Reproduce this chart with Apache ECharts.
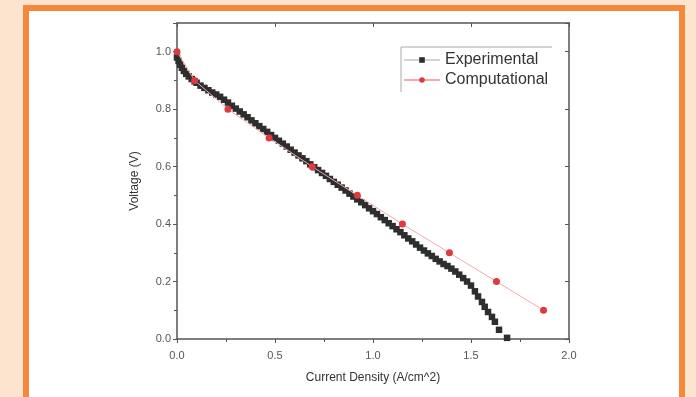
<!DOCTYPE html>
<html>
<head>
<meta charset="utf-8">
<script src="https://cdn.jsdelivr.net/npm/echarts@6/dist/echarts.min.js"></script>
<style>
  html, body { margin: 0; padding: 0; background: #fde4cf; }
  #frame {
    position: absolute; left: 23px; top: 5px; width: 650px; height: 392px;
    border: 6px solid #f5883a; border-bottom: none; background: #fff;
  }
  #chart { position: absolute; left: 0; top: 0; width: 696px; height: 397px; }
</style>
</head>
<body>
<div id="frame"></div>
<div id="chart"></div>
<script>
// Experimental polarisation curve (A/cm^2, V)
const currentExp = [
  0, 0.008, 0.016, 0.025, 0.035, 0.047, 0.06, 0.075, 0.09, 0.10,
  0.12, 0.14, 0.16, 0.18, 0.20, 0.22, 0.24, 0.26, 0.28, 0.30,
  0.32, 0.34, 0.36, 0.38, 0.40, 0.42, 0.44, 0.46, 0.48, 0.50,
  0.52, 0.54, 0.56, 0.58, 0.60, 0.62, 0.64, 0.66, 0.68, 0.70,
  0.72, 0.74, 0.76, 0.78, 0.80, 0.82, 0.84, 0.86, 0.88, 0.90,
  0.92, 0.94, 0.96, 0.98, 1.00, 1.02, 1.04, 1.06, 1.08, 1.10,
  1.12, 1.14, 1.16, 1.18, 1.20, 1.22, 1.24, 1.26, 1.28, 1.30,
  1.32, 1.34, 1.36, 1.38, 1.40, 1.42, 1.44, 1.46, 1.48, 1.50,
  1.52, 1.536, 1.556, 1.57, 1.587, 1.607, 1.622, 1.643, 1.684
]
const voltageExp = [
  0.98, 0.968, 0.955, 0.944, 0.933, 0.923, 0.914, 0.905, 0.897, 0.892,
  0.882, 0.874, 0.866, 0.858, 0.851, 0.843, 0.833, 0.823, 0.812, 0.802,
  0.792, 0.782, 0.772, 0.761, 0.751, 0.741, 0.731, 0.721, 0.710, 0.700,
  0.690, 0.680, 0.670, 0.659, 0.649, 0.639, 0.629, 0.619, 0.608, 0.598,
  0.588, 0.578, 0.568, 0.557, 0.547, 0.537, 0.527, 0.517, 0.506, 0.496,
  0.486, 0.476, 0.466, 0.455, 0.445, 0.435, 0.424, 0.414, 0.403, 0.393,
  0.382, 0.372, 0.361, 0.350, 0.340, 0.329, 0.318, 0.308, 0.298, 0.289,
  0.279, 0.270, 0.261, 0.254, 0.245, 0.235, 0.224, 0.212, 0.200, 0.186,
  0.166, 0.148, 0.129, 0.112, 0.094, 0.077, 0.060, 0.032, 0.004
]
// Computational model
const currentComp = [0, 0.09, 0.26, 0.47, 0.69, 0.92, 1.15, 1.39, 1.63, 1.87]
const voltageComp = [1.0, 0.9, 0.8, 0.7, 0.6, 0.5, 0.4, 0.3, 0.2, 0.1]

const seriesNames = ['Experimental', 'Computational']
const xName = 'Current Density (A/cm^2)'
const yName = 'Voltage (V)'

const FONT = '"Liberation Sans", Arial, sans-serif'
const AXIS_COLOR = '#555'

const chart = echarts.init(document.getElementById('chart'), null, { renderer: 'canvas' })

const baseAxis = {
  type: 'value',
  axisLine: { show: true, onZero: false, lineStyle: { color: AXIS_COLOR, width: 1.5 } },
  splitLine: { show: false },
  minorTick: { show: true, splitNumber: 2, length: 3, lineStyle: { color: AXIS_COLOR } },
  axisTick: { show: true, length: 4, lineStyle: { color: AXIS_COLOR } },
}

chart.setOption({
  backgroundColor: 'transparent',
  animation: false,
  grid: { left: 177, right: 127, top: 23, bottom: 58, outerBoundsMode: 'none' },
  legend: {
    orient: 'vertical',
    left: 403,
    top: 52,
    padding: 0,
    itemWidth: 36,
    itemHeight: 7,
    itemGap: 4,
    textStyle: { color: '#333', fontSize: 16, fontFamily: FONT },
    data: [
      { name: seriesNames[0], lineStyle: { color: '#aaa', width: 1, opacity: 1 } },
      { name: seriesNames[1] },
    ],
  },
  graphic: [{
    type: 'polyline',
    silent: true,
    shape: { points: [[401, 92], [401, 47], [552, 47]] },
    style: { stroke: '#aaa', lineWidth: 1, fill: null },
  }],
  xAxis: [
    {
      ...baseAxis,
      position: 'bottom',
      min: 0, max: 2, interval: 0.5,
      name: xName,
      nameLocation: 'middle',
      nameGap: 33,
      nameTextStyle: { color: '#333', fontSize: 12, fontFamily: FONT },
      axisLabel: {
        color: AXIS_COLOR, fontSize: 11, fontFamily: FONT, margin: 11,
        formatter: v => v.toFixed(1),
      },
    },
    {
      ...baseAxis,
      position: 'top',
      min: 0, max: 2, interval: 0.5,
      axisLabel: { show: false },
      axisTick: { ...baseAxis.axisTick, inside: true },
      minorTick: { ...baseAxis.minorTick, show: false },
    },
  ],
  yAxis: [
    {
      ...baseAxis,
      position: 'left',
      min: 0, max: 1.1, interval: 0.2,
      name: yName,
      nameLocation: 'middle',
      nameGap: 36,
      nameTextStyle: { color: '#333', fontSize: 12, fontFamily: FONT },
      axisLabel: {
        color: AXIS_COLOR, fontSize: 11, fontFamily: FONT, margin: 6,
        showMaxLabel: false,
        formatter: v => v.toFixed(1),
      },
    },
    {
      ...baseAxis,
      position: 'right',
      min: 0, max: 1.1, interval: 0.2,
      axisLabel: { show: false },
      axisTick: { ...baseAxis.axisTick, inside: true },
      minorTick: { ...baseAxis.minorTick, show: false },
    },
  ],
  series: [
    {
      name: seriesNames[0],
      type: 'line',
      symbol: 'rect',
      symbolSize: 6.5,
      showSymbol: true,
      lineStyle: { width: 0, opacity: 0 },
      itemStyle: { color: '#2e2e2e' },
      z: 2,
      data: currentExp.map((c, i) => [c, voltageExp[i]]),
    },
    {
      name: seriesNames[1],
      type: 'line',
      symbol: 'circle',
      symbolSize: 7,
      showSymbol: true,
      lineStyle: { width: 1, color: '#f2a9a9' },
      itemStyle: { color: '#e0393e' },
      z: 3,
      data: currentComp.map((c, i) => [c, voltageComp[i]]),
    },
  ],
})
</script>
</body>
</html>
